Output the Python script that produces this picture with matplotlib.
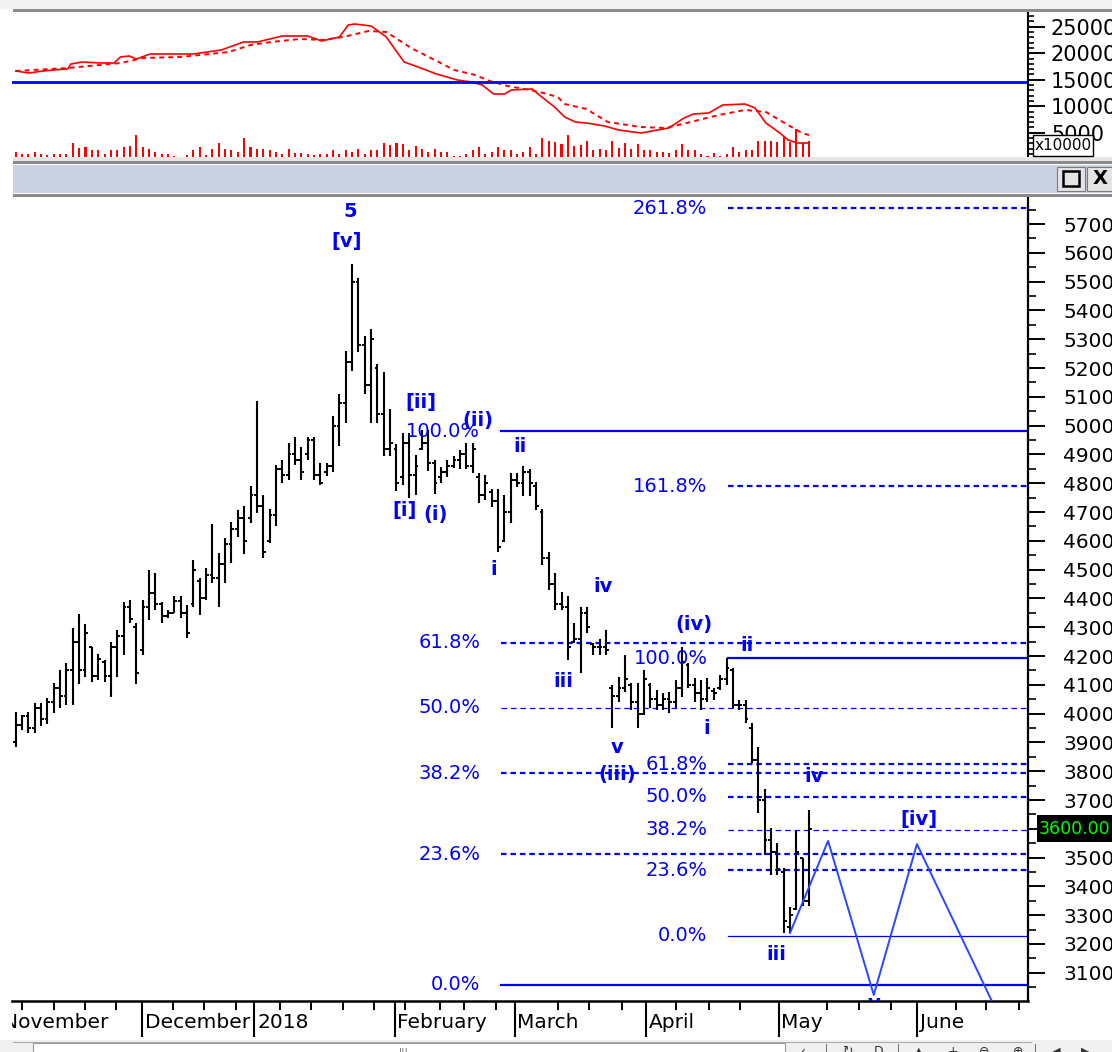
import matplotlib
matplotlib.use("Agg")
import matplotlib.pyplot as plt
from matplotlib.patches import Rectangle
from matplotlib.transforms import blended_transform_factory
import numpy as np

plt.rcParams['font.family'] = ['DejaVu Sans']
plt.rcParams['lines.scale_dashes'] = False

# ---------------- data ----------------
highs = [4006, 3995, 4006, 4037, 4037, 4054, 4106, 4151, 4176, 4297,
         4346, 4311, 4231, 4207, 4186, 4249, 4290, 4388, 4395, 4315,
         4395, 4499, 4488, 4388, 4360, 4408, 4408, 4377, 4533, 4471,
         4506, 4658, 4558, 4610, 4665, 4707, 4721, 4790, 5085, 4759,
         4710, 4863, 4881, 4940, 4960, 4926, 4960, 4960, 4870, 4870,
         5033, 5110, 5259, 5561, 5513, 5311, 5335, 5214, 5186, 5058,
         4936, 4974, 4974, 4898, 4985, 4985, 4881, 4856, 4881, 4895,
         4915, 4940, 4940, 4835, 4829, 4780, 4780, 4759, 4835, 4835,
         4860, 4849, 4804, 4710, 4561, 4488, 4422, 4408, 4315, 4370,
         4370, 4245, 4259, 4290, 4099, 4127, 4204, 4106, 4106, 4151,
         4106, 4082, 4072, 4075, 4117, 4231, 4176, 4124, 4117, 4124,
         4089, 4134, 4193, 4158, 4047, 4047, 3967, 3884, 3738, 3603,
         3551, 3464, 3329, 3593, 3499, 3665]
lows = [3884, 3943, 3933, 3933, 3957, 3964, 4002, 4020, 4030, 4030,
        4103, 4127, 4110, 4117, 4110, 4058, 4127, 4204, 4315, 4103,
        4204, 4325, 4360, 4315, 4332, 4349, 4332, 4263, 4370, 4342,
        4395, 4453, 4370, 4453, 4523, 4613, 4554, 4662, 4697, 4540,
        4592, 4651, 4801, 4811, 4863, 4811, 4881, 4811, 4794, 4825,
        4839, 4929, 5009, 5190, 5256, 5110, 5009, 5009, 4895, 4895,
        4773, 4794, 4749, 4759, 4915, 4842, 4763, 4801, 4822, 4853,
        4849, 4849, 4835, 4731, 4742, 4717, 4561, 4596, 4662, 4787,
        4756, 4756, 4707, 4516, 4429, 4360, 4360, 4186, 4245, 4141,
        4280, 4204, 4204, 4204, 3950, 4040, 4075, 4013, 3950, 3995,
        4020, 4013, 4013, 4002, 4020, 4058, 4089, 4040, 4013, 4040,
        4047, 4082, 4099, 4020, 4013, 3967, 3829, 3655, 3509, 3440,
        3440, 3238, 3238, 3318, 3332, 3332]
opens = [3900, 3960, 3990, 3950, 4020, 3980, 4040, 4090, 4060, 4150,
         4250, 4150, 4230, 4130, 4180, 4130, 4230, 4270, 4370, 4300,
         4220, 4370, 4420, 4380, 4340, 4350, 4390, 4350, 4380, 4460,
         4400, 4480, 4470, 4520, 4590, 4640, 4680, 4680, 4760, 4720,
         4600, 4690, 4850, 4830, 4900, 4880, 4900, 4950, 4830, 4840,
         4860, 5000, 5080, 5220, 5500, 5280, 5140, 5200, 5040, 4920,
         4920, 4820, 4940, 4830, 4920, 4940, 4870, 4820, 4840, 4860,
         4880, 4900, 4860, 4820, 4760, 4770, 4740, 4600, 4700, 4810,
         4800, 4840, 4790, 4700, 4540, 4450, 4380, 4370, 4250, 4260,
         4350, 4240, 4230, 4230, 4090, 4060, 4090, 4100, 4040, 4000,
         4100, 4050, 4030, 4050, 4040, 4090, 4170, 4100, 4070, 4050,
         4080, 4090, 4120, 4150, 4030, 4030, 3950, 3840, 3700, 3560,
         3520, 3450, 3260, 3320, 3500, 3350]
closes = [3960, 3990, 3950, 4020, 3980, 4040, 4090, 4060, 4150, 4250,
          4150, 4280, 4130, 4190, 4130, 4230, 4270, 4370, 4330, 4140,
          4370, 4420, 4380, 4340, 4350, 4390, 4350, 4280, 4500, 4400,
          4480, 4470, 4520, 4590, 4640, 4680, 4600, 4760, 4720, 4560,
          4690, 4850, 4830, 4900, 4880, 4840, 4950, 4830, 4800, 4860,
          5000, 5080, 5220, 5500, 5280, 5140, 5300, 5040, 4920, 4940,
          4800, 4940, 4830, 4860, 4940, 4870, 4800, 4840, 4860, 4880,
          4900, 4860, 4920, 4760, 4800, 4740, 4580, 4700, 4810, 4800,
          4840, 4800, 4720, 4540, 4450, 4380, 4370, 4230, 4260, 4350,
          4300, 4230, 4230, 4220, 4060, 4090, 4120, 4040, 4000, 4120,
          4050, 4030, 4050, 4040, 4090, 4180, 4100, 4070, 4050, 4090,
          4070, 4120, 4160, 4030, 4030, 3980, 3840, 3700, 3560, 3520,
          3460, 3280, 3300, 3520, 3350, 3600]

volume = [926, 494, 494, 926, 494, 309, 494, 494, 494, 2591,
          1728, 1851, 1357, 1357, 494, 1357, 1357, 1851, 2160, 4196,
          1851, 1543, 864, 617, 494, 123, 62, 309, 1357, 1851, 309,
          1543, 2591, 1543, 1357, 926, 3517, 1851, 1543, 1419, 1357,
          864, 617, 1419, 740, 740, 494, 309, 494, 494, 1234,
          617, 1234, 926, 1419, 494, 1234, 1234, 2591, 2345, 2591,
          2468, 1357, 2160, 1543, 926, 1419, 926, 926, 123, 247,
          494, 1234, 1851, 617, 926, 1851, 1357, 1357, 617, 926,
          1851, 617, 3517, 3085, 2777, 2468, 4196, 2160, 2345, 2962,
          1357, 1481, 1357, 2962, 1728, 2591, 1543, 2468, 1357, 1234,
          926, 926, 740, 1234, 2468, 1357, 1357, 494, 247, 740,
          247, 494, 1851, 926, 1234, 1357, 2962, 2962, 2962, 2777,
          3826, 2777, 5245, 2591, 3085]

ma_fast_bar = [0, 2.1, 4.3, 6.0, 8.2, 8.7, 10.5, 13.3, 15.5, 16.5, 17.9, 19.0,
               21.2, 28.0, 30.2, 32.4, 35.9, 38.1, 42.0, 46.0, 48.2, 51.0, 52.4,
               53.4, 56.0, 58.4, 59.5, 61.2, 63.4, 66.3, 69.6, 71.8, 73.5, 75.3,
               77.0, 78.1, 81.4, 82.5, 84.9, 86.5, 88.2, 89.9, 92.8, 95.0, 98.5,
               101.1, 102.9, 105.3, 106.8, 109.2, 111.4, 114.9, 116.5, 118.2,
               120.4, 121.7, 123.2, 125.0]
ma_fast_val = [16643, 16266, 16643, 16832, 17021, 17964, 18342, 18153, 18153,
               19285, 19474, 18908, 19851, 19851, 20229, 20606, 22116, 22116,
               23248, 23248, 22304, 23059, 25324, 25512, 25135, 23059, 21172,
               18342, 17398, 16077, 14945, 14568, 14002, 12303, 12303, 13058,
               13247, 12114, 9850, 7964, 7020, 6831, 6265, 5510, 4944, 5510,
               5887, 7775, 8530, 8718, 10228, 10416, 9662, 6831, 4944, 3623,
               3057, 3057]
ma_slow_bar = [0, 8.2, 11.6, 16.6, 20.1, 25.8, 29.1, 33.6, 37.0, 40.3, 44.8,
               48.2, 51.6, 55.6, 58.4, 62.3, 65.7, 69.1, 72.4, 74.7, 77.5, 81.0,
               83.2, 85.4, 86.5, 89.9, 93.3, 98.5, 102.4, 105.7, 110.8, 114.9,
               118.2, 121.7, 123.9, 125.0]
ma_slow_val = [16643, 17209, 17587, 18153, 19096, 19285, 19663, 20229, 21550,
               22116, 22682, 22493, 23059, 24191, 24003, 20984, 18908, 16832,
               15888, 14756, 13813, 13058, 12492, 11737, 10416, 9473, 7020,
               6076, 5887, 6831, 8341, 9285, 8907, 6454, 4944, 4566]
volume_ref_level = 14600

month_names = ["November", "December", "2018", "February", "March", "April", "May", "June"]
month_start = [-2.4, 19.9, 37.6, 59.7, 78.6, 99.3, 120.2, 142.0]
week_ticks = [1.0, 6.0, 10.9, 15.8, 24.8, 29.7, 34.7, 41.7, 46.6, 51.5, 56.5,
              61.4, 66.8, 70.7, 75.6, 85.4, 90.4, 95.5, 104.1, 109.2, 114.2,
              127.9, 132.9, 137.9, 148.2, 152.9, 158.1]

# Fibonacci tools: (low anchor, high anchor), ratios
fibA_low, fibA_high = 3058, 4981
fibA_ratios = [0.0, 23.6, 38.2, 50.0, 61.8, 100.0]
fibA_thick = [True, True, True, False, True, True]
fibB_low, fibB_high = 3228, 4193
fibB_ratios = [0.0, 23.6, 38.2, 50.0, 61.8, 100.0, 161.8, 261.8]
fibB_thick = [False, True, False, True, True, True, True, True]

wave_text = ["5", "[v]", "[ii]", "[i]", "(i)", "(ii)", "ii", "i", "iv", "iii",
             "(iv)", "ii", "i", "v", "(iii)", "iv", "[iv]", "iii", "v"]
wave_bar = [52.7, 52.1, 63.9, 61.2, 66.1, 72.9, 79.5, 75.3, 92.5, 86.3,
            106.8, 115.3, 108.9, 94.8, 94.8, 125.8, 142.3, 119.8, 135.2]
wave_price = [5745, 5641, 5082, 4707, 4693, 5019, 4926, 4499, 4443, 4110,
              4308, 4238, 3950, 3881, 3787, 3780, 3631, 3162, 2994]

proj_bar = [122.0, 128.0, 135.2, 142.0, 157.0]
proj_price = [3238, 3558, 3023, 3547, 2854]

last_price = 3600.00

# ---------------- figure ----------------
W, H = 1112, 1052
fig = plt.figure(figsize=(W / 100, H / 100), dpi=100)
fig.patch.set_facecolor('white')


def box(x0, y0, x1, y1):
    return [x0 / W, 1 - y1 / H, (x1 - x0) / W, (y1 - y0) / H]


def rect_px(x0, y0, x1, y1, fc, ec='none', lw=0, z=1):
    fig.patches.append(Rectangle((x0 / W, 1 - y1 / H), (x1 - x0) / W, (y1 - y0) / H,
                                 transform=fig.transFigure, facecolor=fc,
                                 edgecolor=ec, linewidth=lw, zorder=z))


XLIM = (-0.58, 159.5)
BLUE = '#0000FF'

# window chrome
rect_px(0, 0, W, 8.5, '#F3F3F3')
rect_px(13, 8.5, W, 11.5, '#8C8C8C')
rect_px(13, 157, W, 160.5, '#E6E6E6')
rect_px(13, 160.5, W, 163.5, '#8A8A8A')
rect_px(13, 165, W, 193, '#C8D2E0')
rect_px(13, 194.5, W, 197, '#8A8A8A')
# buttons in the band
rect_px(1057, 167, 1085, 191, '#E4E4E4', ec='#7A7A7A', lw=0.8)
rect_px(1063, 171, 1079, 186, 'none', ec='black', lw=1.8)
rect_px(1087, 167, W + 2, 191, '#E4E4E4', ec='#7A7A7A', lw=0.8)
fig.text(1100 / W, 1 - 179 / H, "X", ha='center', va='center', fontsize=14,
         fontweight='bold', color='black')

# bottom scroll strip
rect_px(0, 1040, W, H, '#F0F0F0')
rect_px(13, 1041.5, 1032, 1043, '#A8A8A8')
rect_px(33, 1043, 785, H + 2, 'white', ec='#9A9A9A', lw=0.8)
fig.text(404 / W, 1 - 1047 / H, "|||", ha='center', va='top', fontsize=7, color='#555555')
for sx in [826, 898, 1035]:
    rect_px(sx, 1044, sx + 1.2, H, '#707070')
for gx, g in [(803, "\u2039"), (847, "\u21bb"), (879, "D"), (919, "\u25b2"),
              (953, "+"), (984, "\u2296"), (1018, "\u2295"), (1056, "\u25c0"), (1086, "\u25b6")]:
    fig.text(gx / W, 1 - 1045 / H, g, ha='center', va='top', fontsize=9, color='#333333')

# ---------------- top panel ----------------
axt = fig.add_axes(box(12, 12, 1028, 157))
axt.set_xlim(*XLIM)
axt.set_ylim(415, 27774)
idx = np.arange(len(highs))
vidx = np.arange(len(volume))
axt.bar(vidx, volume, bottom=415, width=0.32, color='#FF0000', linewidth=0)
axt.plot(ma_fast_bar, ma_fast_val, color='#FF0000', lw=1.2, solid_joinstyle='miter')
axt.plot(ma_slow_bar, ma_slow_val, color='#FF0000', lw=1.4, dashes=(3.5, 3.0))
axt.axhline(volume_ref_level, color=BLUE, lw=2.0)
for s in ['top', 'left', 'bottom']:
    axt.spines[s].set_visible(False)
axt.spines['right'].set_linewidth(1.5)
axt.set_xticks([])
axt.yaxis.tick_right()
axt.set_yticks(np.arange(5000, 25001, 5000))
axt.set_yticklabels([str(v) for v in range(5000, 25001, 5000)])
axt.set_yticks(np.arange(1000, 27001, 1000), minor=True)
axt.tick_params(axis='y', which='major', length=12.5, width=1.4, pad=4, labelsize=15)
axt.tick_params(axis='y', which='minor', length=4.5, width=1.2)
# x10000 box
rect_px(1033, 135, 1093, 156, 'white', ec='black', lw=1.0, z=3)
fig.text(1063 / W, 1 - 145.5 / H, "x10000", ha='center', va='center', fontsize=11,
         color='black', zorder=4)

# ---------------- main panel ----------------
ax = fig.add_axes(box(12, 197, 1028, 1001))
ax.set_xlim(*XLIM)
ax.set_ylim(3002, 5794)
for s in ['top', 'left']:
    ax.spines[s].set_visible(False)
ax.spines['right'].set_linewidth(1.6)
ax.spines['bottom'].set_linewidth(1.8)
ax.set_xticks([])
ax.yaxis.tick_right()
ax.set_yticks(np.arange(3100, 5701, 100))
ax.set_yticklabels([str(v) for v in range(3100, 5701, 100)])
ax.set_yticks(np.arange(3050, 5751, 100), minor=True)
ax.tick_params(axis='y', which='major', length=12.5, width=1.4, pad=13, labelsize=14.5)
ax.tick_params(axis='y', which='minor', length=6, width=1.2)


def draw_fib(lo, hi, ratios, thick, line_start, label_x):
    for r, t in zip(ratios, thick):
        lvl = lo + (hi - lo) * r / 100.0
        lw = 1.6 if t else 0.9
        solid = r in (0.0, 100.0)
        kw = dict(color=BLUE, lw=lw, zorder=2)
        if not solid:
            kw['dashes'] = (4.0, 2.8)
        ax.plot([line_start, XLIM[1]], [lvl, lvl], **kw)
        ax.text(label_x, lvl, f"{r:.1f}%", ha='right', va='center', color=BLUE,
                fontsize=14, zorder=4)


draw_fib(fibA_low, fibA_high, fibA_ratios, fibA_thick, 76.4, 73.2)
draw_fib(fibB_low, fibB_high, fibB_ratios, fibB_thick, 112.2, 109.0)

# OHLC bars
ax.vlines(idx, lows, highs, color='black', lw=1.5, zorder=3)
ax.hlines(opens, idx - 0.45, idx, color='black', lw=1.4, zorder=3)
ax.hlines(closes, idx, idx + 0.45, color='black', lw=1.4, zorder=3)

# projected path
ax.plot(proj_bar, proj_price, color='#2848FF', lw=1.4, zorder=3)

# wave labels
for t, b, p in zip(wave_text, wave_bar, wave_price):
    ax.text(b, p, t, ha='center', va='center', color=BLUE, fontsize=14,
            fontweight='bold', zorder=5, clip_on=True)

# last price box on the axis
tr = blended_transform_factory(ax.transAxes, ax.transData)
ax.add_patch(Rectangle((1.0 + 9 / 1016, last_price - 47), 0.1, 94, transform=tr,
                       facecolor='black', edgecolor='none', clip_on=False, zorder=6))
ax.text(1.0 + 11 / 1016, last_price, f"{last_price:.2f}", transform=tr, ha='left',
        va='center', color='#00FF00', fontsize=12.5, zorder=7, clip_on=False)

# ---------------- date strip ----------------
axd = fig.add_axes(box(12, 1001, 1028, 1040))
axd.set_xlim(*XLIM)
axd.set_ylim(1, 0)
axd.axis('off')
axd.vlines(month_start, 0, 0.92, color='black', lw=1.5)
axd.vlines(week_ticks, 0, 0.23, color='black', lw=1.4)
for name, m in zip(month_names, month_start):
    axd.text(m + 0.45, 0.56, name, ha='left', va='center', fontsize=14.5,
             color='black', clip_on=True)

fig.savefig("out.png", dpi=100)
